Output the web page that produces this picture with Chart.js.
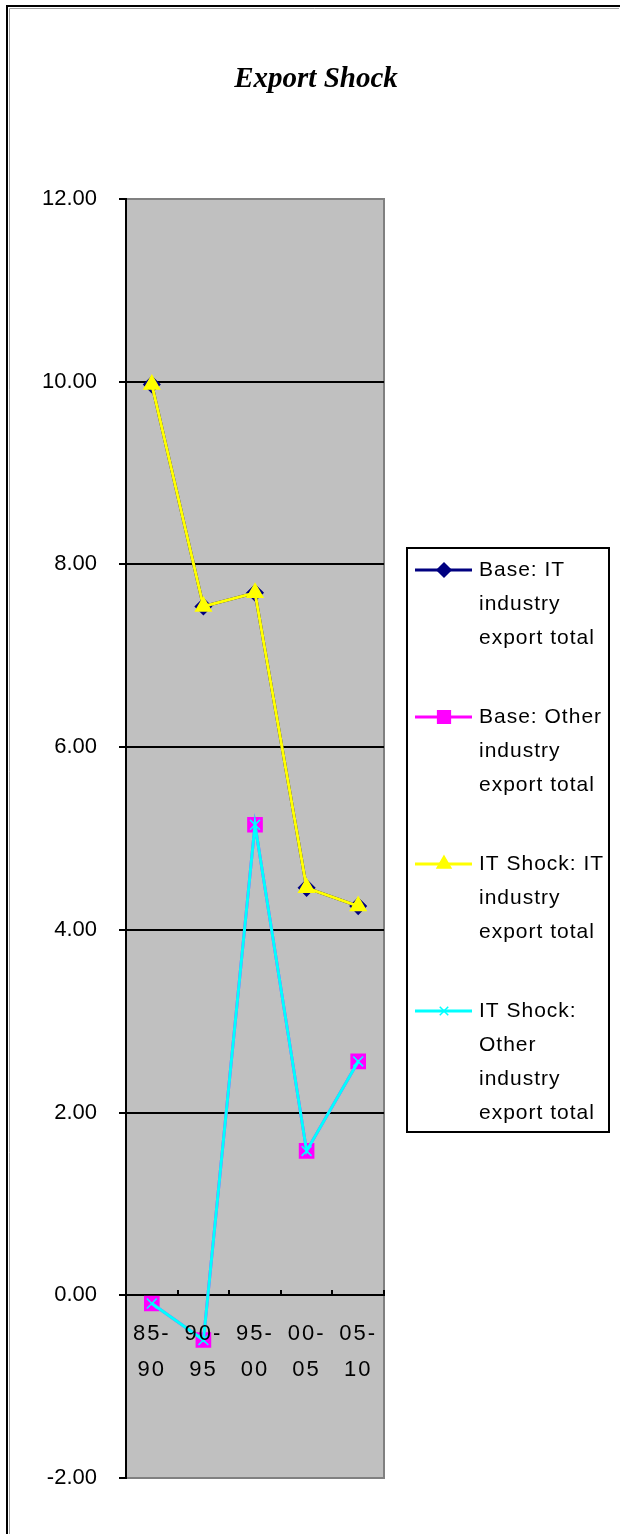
<!DOCTYPE html>
<html>
<head>
<meta charset="utf-8">
<script src="https://cdn.jsdelivr.net/npm/chart.js@4.4.1/dist/chart.umd.min.js"></script>
<style>
  html, body { margin: 0; padding: 0; background: #fff; }
</style>
</head>
<body>
<canvas id="chart" width="624" height="1534"></canvas>
<script>
// data
const periods = [['85-', '90'], ['90-', '95'], ['95-', '00'], ['00-', '05'], ['05-', '10']];
const baseIT = [9.97, 7.54, 7.69, 4.46, 4.26];
const baseOther = [-0.09, -0.49, 5.15, 1.58, 2.56];
const shockIT = [9.97, 7.54, 7.69, 4.46, 4.26];
const shockOther = [-0.09, -0.49, 5.15, 1.58, 2.56];
const yTicks = [-2, 0, 2, 4, 6, 8, 10, 12];
const chartTitle = 'Export Shock';
const legendLines = [
    ['Base: IT', 'industry', 'export total'],
    ['Base: Other', 'industry', 'export total'],
    ['IT Shock: IT', 'industry', 'export total'],
    ['IT Shock:', 'Other', 'industry', 'export total']
];

// gray plot area, outer frame and title
const chartBack = {
    id: 'chartBack',
    beforeDraw(chart) {
        const { ctx, chartArea: a } = chart;
        ctx.save();
        ctx.fillStyle = '#fff';
        ctx.fillRect(0, 0, chart.width, chart.height);
        ctx.strokeStyle = '#a0a0a0';
        ctx.lineWidth = 1;
        ctx.beginPath();
        ctx.moveTo(9.5, chart.height);
        ctx.lineTo(9.5, 8.5);
        ctx.lineTo(619, 8.5);
        ctx.stroke();
        ctx.strokeStyle = '#000';
        ctx.lineWidth = 2;
        ctx.beginPath();
        ctx.moveTo(7, chart.height);
        ctx.lineTo(7, 6);
        ctx.lineTo(620, 6);
        ctx.stroke();
        ctx.fillStyle = '#c0c0c0';
        ctx.fillRect(a.left, a.top, a.right - a.left, a.bottom - a.top);
        ctx.strokeStyle = '#808080';
        ctx.lineWidth = 2;
        ctx.strokeRect(a.left, a.top, a.right - a.left, a.bottom - a.top);

        ctx.fillStyle = '#000';
        ctx.font = 'italic bold 29px "Liberation Serif"';
        ctx.textAlign = 'center';
        ctx.textBaseline = 'middle';
        ctx.fillText(chartTitle, 316, 80);
        ctx.restore();
    },
    afterDatasetsDraw(chart) {
        // x labels are drawn after this, with wider letters
        chart.ctx.letterSpacing = '2px';
    },
    afterDraw(chart) {
        chart.ctx.letterSpacing = '0px';
    }
};

// legend box on the right with wrapped text
const sideLegend = {
    id: 'sideLegend',
    afterDraw(chart) {
        const ctx = chart.ctx;
        ctx.save();
        ctx.strokeStyle = '#000';
        ctx.lineWidth = 2;
        ctx.strokeRect(407, 548, 202, 584);
        ctx.font = '21px "Liberation Sans"';
        ctx.textBaseline = 'middle';
        chart.data.datasets.forEach((ds, i) => {
            const y0 = 570 + i * 147;
            ctx.strokeStyle = ds.borderColor;
            ctx.fillStyle = ds.backgroundColor;
            ctx.lineWidth = 3;
            ctx.beginPath();
            ctx.moveTo(415, y0);
            ctx.lineTo(472, y0);
            ctx.stroke();
            ctx.lineWidth = 1.5;
            Chart.helpers.drawPoint(ctx, { pointStyle: ds.pointStyle, radius: ds.legendRadius, borderWidth: 1.5, rotation: 0 }, 444, y0);
            ctx.fillStyle = '#000';
            ctx.letterSpacing = '1px';
            legendLines[i].forEach((t, j) => ctx.fillText(t, 479, y0 + j * 34));
            ctx.letterSpacing = '0px';
        });
        ctx.restore();
    }
};

new Chart(document.getElementById('chart'), {
    type: 'line',
    data: {
        labels: periods,
        datasets: [
            {
                label: 'Base: IT industry export total',
                data: baseIT,
                borderColor: '#000080',
                backgroundColor: '#000080',
                pointStyle: 'rectRot',
                pointRadius: 8,
                legendRadius: 7,
                order: 2
            },
            {
                label: 'Base: Other industry export total',
                data: baseOther,
                borderColor: '#ff00ff',
                backgroundColor: '#ff00ff',
                pointStyle: 'rect',
                pointRadius: 10,
                legendRadius: 9,
                order: 2
            },
            {
                label: 'IT Shock: IT industry export total',
                data: shockIT,
                borderColor: '#ffff00',
                backgroundColor: '#ffff00',
                pointStyle: 'triangle',
                pointRadius: 9,
                legendRadius: 8,
                order: 1
            },
            {
                label: 'IT Shock: Other industry export total',
                data: shockOther,
                borderColor: '#00ffff',
                backgroundColor: '#00ffff',
                pointStyle: 'crossRot',
                pointRadius: 7,
                legendRadius: 6,
                order: 1
            }
        ]
    },
    options: {
        responsive: false,
        animation: false,
        devicePixelRatio: 1,
        layout: { padding: { left: 10, right: 240, top: 199, bottom: 56 } },
        elements: {
            line: { borderWidth: 3, tension: 0, fill: false },
            point: { borderWidth: 1.5 }
        },
        scales: {
            x: {
                type: 'category',
                offset: true,
                position: { y: 0 },
                afterFit(s) { s.height = 0; },
                grid: {
                    display: true,
                    offset: true,
                    drawOnChartArea: false,
                    drawTicks: true,
                    tickLength: -6,
                    color: '#000',
                    lineWidth: 2
                },
                border: { color: '#000', width: 2 },
                ticks: {
                    padding: 27,
                    color: '#000',
                    maxRotation: 0,
                    autoSkip: false,
                    z: 1,
                    font: { family: 'Liberation Sans', size: 22, lineHeight: 36 / 22 }
                }
            },
            y: {
                min: -2,
                max: 12,
                afterFit(s) { s.width = 116; },
                afterBuildTicks(s) { s.ticks = yTicks.map(v => ({ value: v })); },
                grid: {
                    color: c => (c.tick && (c.tick.value === -2 || c.tick.value === 12)) ? '#808080' : '#000',
                    lineWidth: 2,
                    tickLength: 7,
                    tickColor: '#000'
                },
                border: { color: '#000', width: 2 },
                ticks: {
                    padding: 22,
                    color: '#000',
                    font: { family: 'Liberation Sans', size: 22 },
                    callback: v => v.toFixed(2)
                }
            }
        },
        plugins: {
            legend: { display: false },
            tooltip: { enabled: false },
            title: { display: false }
        }
    },
    plugins: [chartBack, sideLegend]
});
</script>
</body>
</html>
